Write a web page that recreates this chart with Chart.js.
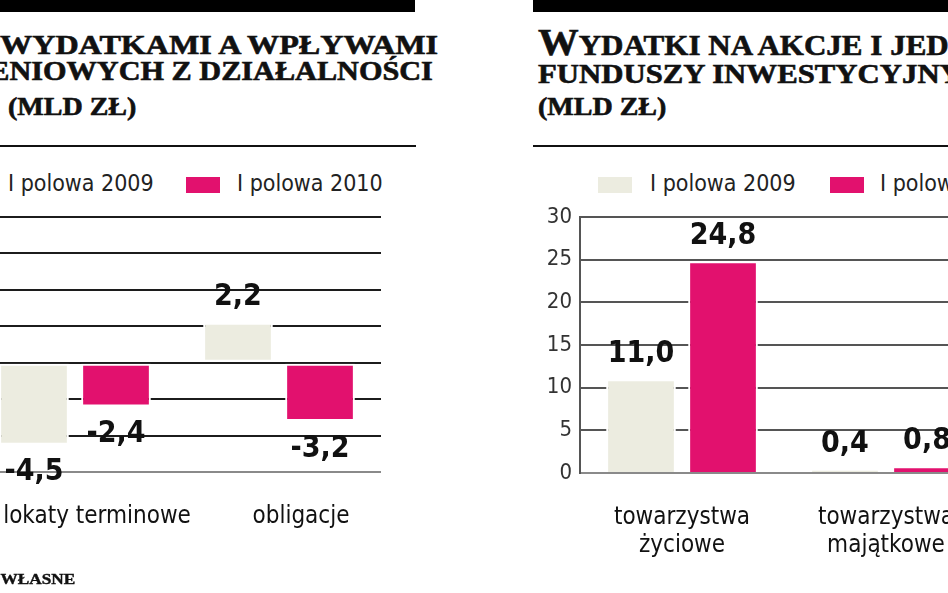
<!DOCTYPE html>
<html>
<head>
<meta charset="utf-8">
<script src="https://cdn.jsdelivr.net/npm/chart.js@4.4.0/dist/chart.umd.min.js"></script>
<style>
  html, body { margin: 0; padding: 0; width: 948px; height: 593px; overflow: hidden; background: #fff; }
  body { position: relative; }
  .topbar { position: absolute; top: 0; height: 12px; background: #000; }
  .rule { position: absolute; top: 145px; height: 2px; background: #111; }
  .t { position: absolute; font-family: 'Liberation Serif', 'DejaVu Serif', serif; font-weight: bold; font-size: 27px; line-height: 30px; white-space: nowrap; color: #111; -webkit-text-stroke: 0.6px #111; }
  .t .big { font-size: 38px; }
  .tl { transform-origin: right center; }
  .tr { transform-origin: left center; }
  .leg { position: absolute; top: 169px; font-family: 'DejaVu Sans Condensed', 'DejaVu Sans', sans-serif; font-size: 23px; line-height: 28px; color: #222; white-space: nowrap; }
  .sw { position: absolute; top: 177px; width: 34px; height: 16px; }
  .src { position: absolute; top: 572px; right: 873px; font-family: 'Liberation Serif', serif; font-weight: bold; font-size: 15px; line-height: 15px; white-space: nowrap; color: #111; -webkit-text-stroke: 0.4px #111; transform: scaleX(1.15); transform-origin: right center; }
  canvas { position: absolute; }
</style>
</head>
<body>

<div class="topbar" style="left:0;width:415px"></div>
<div class="topbar" style="left:533px;width:415px"></div>

<div class="t tl" style="top:26px;right:510px;transform:scaleX(1.19)"><span class="big">R</span>ÓŻNICA MIĘDZY WYDATKAMI A WPŁYWAMI</div>
<div class="t tl" style="top:56px;right:515px;transform:scaleX(1.12)">ZAKŁADÓW UBEZPIECZENIOWYCH Z DZIAŁALNOŚCI</div>
<div class="t tr" style="top:92px;left:8px;font-size:25px;transform:scaleX(1.12)">(MLD ZŁ)</div>

<div class="t tr" style="top:27px;left:538px;font-size:29px;transform:scaleX(1.07)"><span class="big">W</span>YDATKI NA AKCJE I JEDNOSTKI</div>
<div class="t tr" style="top:59px;left:538px;transform:scaleX(1.14)">FUNDUSZY INWESTYCYJNYCH</div>
<div class="t tr" style="top:92px;left:538px;font-size:25px;transform:scaleX(1.12)">(MLD ZŁ)</div>

<div class="rule" style="left:0;width:416px"></div>
<div class="rule" style="left:533px;width:415px"></div>

<div class="sw" id="l_sw0" style="left:-40px"></div>
<div class="leg" id="l_te0" style="left:8px"></div>
<div class="sw" id="l_sw1" style="left:186px"></div>
<div class="leg" id="l_te1" style="left:237px"></div>

<div class="sw" id="r_sw0" style="left:598px"></div>
<div class="leg" id="r_te0" style="left:650px"></div>
<div class="sw" id="r_sw1" style="left:830px"></div>
<div class="leg" id="r_te1" style="left:880px"></div>

<canvas id="leftChart" width="490" height="433" style="left:-100px;top:160px"></canvas>
<canvas id="rightChart" width="458" height="433" style="left:530px;top:160px"></canvas>

<div class="src">OPRACOWANIE WŁASNE</div>

<script>
// data
const seriesLabels = ['I polowa 2009', 'I polowa 2010'];
const seriesColors = ['#ECECE0', '#E2116E'];

const leftCategories = ['lokaty terminowe', 'obligacje'];
const left2009 = [-4.5, 2.2];
const left2010 = [-2.4, -3.2];
const leftMin = -6, leftMax = 8, leftStep = 2;

const rightCategories = [['towarzystwa', 'życiowe'], ['towarzystwa', 'majątkowe']];
const right2009 = [11.0, 0.4];
const right2010 = [24.8, 0.8];
const rightMin = 0, rightMax = 30, rightStep = 5;

const FONT = "'DejaVu Sans Condensed', 'DejaVu Sans', sans-serif";

// value labels over / under the bars
const valueLabels = {
  id: 'valueLabels',
  afterDatasetsDraw(chart) {
    const ctx = chart.ctx;
    ctx.save();
    ctx.font = 'bold 30px ' + FONT;
    ctx.fillStyle = '#111';
    ctx.textAlign = 'center';
    ctx.textBaseline = 'middle';
    chart.data.datasets.forEach((ds, i) => {
      chart.getDatasetMeta(i).data.forEach((bar, j) => {
        const v = ds.data[j];
        const y = v >= 0 ? bar.y - 25 : bar.y + 28;
        ctx.fillText(v.toFixed(1).replace('.', ','), bar.x, y);
      });
    });
    ctx.restore();
  }
};

function makeChart(id, labels, d09, d10, y, yWidth, xHeight, padRight, labelShift) {
  return new Chart(document.getElementById(id), {
    type: 'bar',
    data: {
      labels: labels,
      datasets: [
        { label: seriesLabels[0], data: d09, backgroundColor: seriesColors[0] },
        { label: seriesLabels[1], data: d10, backgroundColor: seriesColors[1] }
      ]
    },
    options: {
      responsive: false,
      animation: false,
      layout: { padding: { top: 57, right: padRight, bottom: 0, left: 0 } },
      datasets: {
        bar: {
          categoryPercentage: 0.804,
          barPercentage: 0.85,
          borderColor: '#fff',
          borderWidth: 2,
          borderSkipped: y.skip
        }
      },
      scales: {
        x: {
          grid: { display: false },
          border: { display: false },
          ticks: {
            color: '#111',
            padding: 22,
            labelOffset: labelShift,
            maxRotation: 0,
            autoSkip: false,
            font: { family: FONT, size: 24, lineHeight: 1.2 }
          },
          afterFit: (s) => { s.height = xHeight; }
        },
        y: {
          min: y.min,
          max: y.max,
          grid: {
            drawTicks: false,
            lineWidth: 2,
            color: (c) => c.tick.value === y.min ? '#8a8a8a' : y.grid
          },
          border: { display: y.border, color: '#555', width: 2 },
          ticks: {
            stepSize: y.step,
            padding: 8,
            color: '#333',
            font: { family: FONT, size: 22 }
          },
          afterFit: (s) => { s.width = yWidth; }
        }
      },
      plugins: {
        legend: { display: false },
        tooltip: { enabled: false }
      }
    },
    plugins: [valueLabels]
  });
}

const leftChart = makeChart('leftChart', leftCategories, left2009, left2010,
  { min: leftMin, max: leftMax, step: leftStep, grid: '#1c1c1c', border: false, skip: false }, 73, 121, 9, 22);
const rightChart = makeChart('rightChart', rightCategories, right2009, right2010,
  { min: rightMin, max: rightMax, step: rightStep, grid: '#555', border: true, skip: 'start' }, 50, 120, 0, 0);

// html legends from the datasets
[['l', leftChart], ['r', rightChart]].forEach(([p, ch]) => {
  ch.data.datasets.forEach((ds, i) => {
    document.getElementById(p + '_sw' + i).style.backgroundColor = ds.backgroundColor;
    document.getElementById(p + '_te' + i).innerText = ds.label;
  });
});
</script>
</body>
</html>
